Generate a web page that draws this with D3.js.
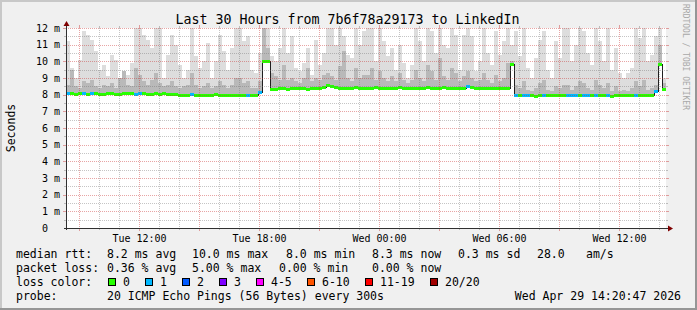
<!DOCTYPE html>
<html>
<head>
<meta charset="utf-8">
<script src="https://cdn.jsdelivr.net/npm/d3@7"></script>
<style>
html, body { margin: 0; padding: 0; background: #fff; }
svg text { font-family: "DejaVu Sans Mono", monospace; white-space: pre; }
</style>
</head>
<body>
<script>
//size of the picture and of the plot area
var totalWidth = 697;
var totalHeight = 310;
var plot = {left: 66, top: 28, width: 600, height: 200};

//time range of the graph, 30 hours ending at the stamp (UTC so the sandbox timezone does not matter)
var endTime = new Date(Date.UTC(2026, 3, 29, 14, 20, 47));
var startTime = new Date(endTime.getTime() - 30 * 3600 * 1000);
var binMinutes = 12;

//median rtt per 12 minute bin, in ms
var medianRtt = [
    8.1, 8.1, 8.05, 8.1, 8.1, 8.05, 8.1, 8.1, 8.05, 8.05, 8.1, 8.1, 8.05, 8.05, 8.1, 8.1, 8.1, 8.05, 8.1, 8.1, 8.05, 8.05, 8.1, 8.05, 8.1,
    8.05, 8.05, 8.05, 8.0, 8.0, 8.0, 8.05, 8.0, 8.0, 8.0, 8.0, 8.0, 8.05, 8.0, 8.0, 8.0, 8.0, 8.0, 8.0, 8.0, 8.0, 8.0, 8.0, 8.15, 10.0, 10.0,
    8.35, 8.35, 8.4, 8.4, 8.35, 8.4, 8.4, 8.4, 8.4, 8.35, 8.4, 8.4, 8.4, 8.45, 8.6, 8.55, 8.45, 8.4, 8.4, 8.4, 8.4, 8.45, 8.4, 8.4,
    8.4, 8.4, 8.45, 8.4, 8.4, 8.4, 8.4, 8.4, 8.45, 8.4, 8.4, 8.4, 8.4, 8.4, 8.4, 8.45, 8.4, 8.4, 8.4, 8.45, 8.4, 8.4, 8.4, 8.4, 8.4,
    8.5, 8.45, 8.4, 8.4, 8.4, 8.4, 8.4, 8.4, 8.4, 8.4, 8.4, 9.85, 8.0, 8.0, 8.0, 8.0, 8.0, 7.95, 8.0, 8.0, 8.0, 8.0, 8.0, 8.0, 8.0,
    8.0, 8.0, 8.0, 8.0, 8.0, 8.0, 8.0, 8.0, 8.0, 8.0, 8.0, 7.95, 8.0, 8.0, 8.0, 8.0, 8.0, 8.0, 8.0, 8.0, 8.0, 8.0, 8.2, 9.85, 8.35
];

//top of the light smoke (slowest pings) per bin, in ms
var smokeHigh = [
    11.2, 9.6, 9.0, 10.1, 11.8, 11.6, 11.3, 10.6, 9.5, 9.8, 9.1, 10.4, 10.1, 9.0, 8.9, 9.2, 9.9, 12.4, 12.4, 11.6, 11.3, 10.8, 12.2, 12.0, 9.0,
    10.4, 11.6, 11.0, 9.8, 9.0, 9.5, 12.2, 10.3, 9.6, 10.0, 11.1, 9.0, 10.0, 11.6, 10.6, 9.5, 10.8, 12.2, 12.0, 11.2, 11.5, 9.5, 9.3, 10.5, 12.4, 12.4,
    10.3, 10.0, 10.8, 12.0, 10.5, 11.5, 9.6, 9.4, 9.9, 10.8, 9.2, 11.3, 9.8, 10.5, 12.2, 12.0, 11.0, 12.2, 11.5, 10.4, 10.2, 12.3, 11.0, 11.8,
    12.1, 12.2, 10.0, 12.0, 11.2, 10.3, 10.8, 9.5, 11.0, 9.9, 9.0, 9.8, 12.2, 11.2, 10.0, 12.1, 11.8, 10.5, 12.2, 11.0, 10.8, 12.0, 11.6, 9.5, 11.6,
    12.1, 11.5, 9.4, 10.0, 12.0, 10.5, 9.8, 11.8, 10.4, 11.2, 12.3, 11.0, 11.8, 10.3, 12.0, 9.6, 9.0, 10.2, 11.3, 11.8, 9.5, 9.0, 11.2, 10.2, 12.2,
    12.2, 10.0, 11.0, 12.1, 11.8, 10.5, 9.8, 12.0, 11.2, 10.0, 12.0, 9.5, 10.8, 9.3, 9.0, 9.3, 9.6, 12.1, 11.4, 12.0, 10.0, 10.4, 11.5, 12.4, 9.0
];

//top of the darker smoke per bin, in ms
var smokeMid = [
    8.6, 9.5, 8.5, 8.4, 8.8, 8.7, 8.9, 8.5, 8.4, 8.6, 8.5, 8.7, 8.4, 9.0, 9.4, 8.6, 8.5, 9.6, 9.2, 8.8, 8.6, 8.9, 9.3, 8.7, 8.5,
    8.6, 8.8, 8.5, 8.4, 8.5, 8.6, 9.3, 8.6, 8.4, 8.5, 8.7, 8.4, 8.5, 8.8, 8.6, 8.4, 8.6, 9.0, 9.0, 8.7, 8.8, 8.4, 8.4, 8.8, 12.0, 10.8,
    9.3, 9.1, 8.9, 9.8, 8.9, 9.0, 8.8, 8.7, 9.0, 9.6, 8.8, 9.0, 8.9, 9.2, 9.3, 9.1, 8.9, 9.7, 10.6, 9.0, 8.8, 9.6, 9.0, 9.2,
    9.2, 9.6, 8.9, 9.4, 9.0, 8.8, 9.1, 8.8, 9.3, 8.9, 8.7, 8.9, 9.5, 9.0, 8.8, 9.8, 9.4, 8.9, 10.2, 9.1, 8.9, 9.6, 9.3, 8.8, 9.1,
    9.4, 9.0, 8.8, 8.9, 9.3, 8.9, 8.7, 9.2, 8.8, 9.0, 9.9, 10.0, 8.6, 8.4, 8.8, 8.3, 8.2, 8.4, 8.7, 8.9, 8.3, 8.2, 8.5, 8.4, 8.6,
    8.6, 8.3, 8.5, 8.8, 8.7, 8.4, 8.3, 8.9, 8.6, 8.4, 8.7, 8.2, 8.5, 8.2, 8.3, 8.2, 8.4, 8.8, 8.5, 8.9, 8.3, 8.4, 8.6, 11.0, 8.7
];

//lost pings (out of 20) per bin
var lostPings = [
    1, 0, 0, 0, 1, 0, 1, 0, 0, 0, 0, 0, 0, 0, 0, 0, 0, 1, 1, 0, 0, 0, 0, 0, 0,
    0, 0, 0, 0, 0, 0, 1, 0, 0, 0, 0, 0, 0, 0, 0, 0, 0, 0, 0, 0, 1, 0, 0, 1, 0, 0,
    0, 0, 0, 0, 0, 0, 0, 0, 0, 0, 0, 0, 0, 0, 0, 0, 0, 0, 0, 0, 0, 0, 0, 0,
    0, 0, 0, 0, 0, 0, 0, 0, 0, 0, 0, 0, 0, 0, 0, 0, 0, 0, 0, 0, 0, 0, 0, 0, 0,
    1, 0, 0, 0, 0, 0, 0, 0, 0, 0, 0, 0, 1, 0, 1, 1, 0, 0, 0, 1, 0, 0, 0, 0, 0,
    1, 1, 1, 0, 1, 1, 0, 1, 0, 0, 1, 0, 0, 0, 0, 0, 0, 1, 0, 0, 0, 0, 1, 0, 0
];

//y axis ticks and labels
var yTicks = [0, 1, 2, 3, 4, 5, 6, 7, 8, 9, 10, 11, 12];
var yTickLabels = ["0  ", "1 m", "2 m", "3 m", "4 m", "5 m", "6 m", "7 m", "8 m", "9 m", "10 m", "11 m", "12 m"];

//loss color legend
var lossLabels = ["0", "1", "2", "3", "4-5", "6-10", "11-19", "20/20"];
var lossColors = ["#26ff00", "#00b8ff", "#0059ff", "#7e00ff", "#ff00ff", "#ff5500", "#ff0000", "#a10000"];
var lossLimits = [0, 1, 2, 3, 5, 10, 19, 20];

//legend texts
var titleText = "Last 30 Hours from 7b6f78a29173 to LinkedIn";
var rttItems = ["median rtt:", "8.2 ms avg", "10.0 ms max", "8.0 ms min", "8.3 ms now", "0.3 ms sd", "28.0", "am/s"];
var lossItems = ["packet loss:", "0.36 % avg", "5.00 % max", "0.00 % min", "0.00 % now"];
var probeItems = ["probe:", "20 ICMP Echo Pings (56 Bytes) every 300s"];
var stampText = "Wed Apr 29 14:20:47 2026";

//layout of the legend (x of each item)
var rttX = [16, 107, 192, 286, 372, 458, 537, 586];
var lossX = [16, 107, 192, 279, 372];
var boxX = [108, 145, 182, 219, 256, 307, 365, 430];

var backColor = "#f0f0f0";
var lightSmoke = "#dddddd";
var midSmoke = "#b9b9b9";
var minorGridColor = "rgba(110,110,110,0.4)";
var majorGridColor = "rgba(200,40,40,0.42)";
var axisColor = "#303030";
var arrowColor = "#7f0000";

var svg = d3.select("body").append("svg")
    .attr("width", totalWidth)
    .attr("height", totalHeight);

//background and 3d frame
svg.append("rect").attr("width", totalWidth).attr("height", totalHeight).attr("fill", backColor);
svg.append("rect").attr("x", 0).attr("y", 0).attr("width", totalWidth).attr("height", 2).attr("fill", "#c8c8c8");
svg.append("rect").attr("x", 0).attr("y", 0).attr("width", 2).attr("height", totalHeight).attr("fill", "#c8c8c8");
svg.append("rect").attr("x", 0).attr("y", totalHeight - 2).attr("width", totalWidth).attr("height", 2).attr("fill", "#969696");
svg.append("rect").attr("x", totalWidth - 2).attr("y", 0).attr("width", 2).attr("height", totalHeight).attr("fill", "#969696");

//scales
var xScale = d3.scaleTime()
    .domain([startTime, endTime])
    .range([plot.left, plot.left + plot.width]);
var yScale = d3.scaleLinear()
    .domain([0, 12])
    .range([plot.top + plot.height, plot.top]);

function binStart(i) { return new Date(startTime.getTime() + i * binMinutes * 60000); }
function binEnd(i) { return new Date(startTime.getTime() + (i + 1) * binMinutes * 60000); }

//canvas
svg.append("rect")
    .attr("x", plot.left).attr("y", plot.top)
    .attr("width", plot.width).attr("height", plot.height)
    .attr("fill", "#ffffff");

svg.append("clipPath").attr("id", "plotClip")
    .append("rect")
    .attr("x", plot.left).attr("y", plot.top)
    .attr("width", plot.width).attr("height", plot.height);

var g = svg.append("g").attr("clip-path", "url(#plotClip)");

var bins = d3.range(medianRtt.length).map(function (i) {
    return {i: i, t0: binStart(i), t1: binEnd(i), median: medianRtt[i], high: smokeHigh[i], mid: smokeMid[i], loss: lostPings[i]};
});

//light smoke
g.selectAll(".smokeHigh")
    .data(bins)
    .enter()
    .append("rect")
    .attr("x", d => xScale(d.t0))
    .attr("width", d => xScale(d.t1) - xScale(d.t0))
    .attr("y", d => yScale(d.high))
    .attr("height", d => yScale(d.median) - yScale(d.high))
    .attr("fill", lightSmoke)
    .attr("shape-rendering", "crispEdges");

//darker smoke
g.selectAll(".smokeMid")
    .data(bins)
    .enter()
    .append("rect")
    .attr("x", d => xScale(d.t0))
    .attr("width", d => xScale(d.t1) - xScale(d.t0))
    .attr("y", d => yScale(d.mid))
    .attr("height", d => yScale(d.median) - yScale(d.mid))
    .attr("fill", midSmoke)
    .attr("shape-rendering", "crispEdges");

//median line
var stepPoints = bins.map(d => [d.t0, d.median]);
stepPoints.push([bins[bins.length - 1].t1, bins[bins.length - 1].median]);
var medianLine = d3.line()
    .x(d => xScale(d[0]))
    .y(d => Math.round(yScale(d[1])) + 0.5)
    .curve(d3.curveStepAfter);
g.append("path")
    .datum(stepPoints)
    .attr("d", medianLine)
    .attr("fill", "none")
    .attr("stroke", "#202020")
    .attr("stroke-width", 1)
    .attr("shape-rendering", "crispEdges");

//loss colored band on the median
function lossColor(n) {
    for (var k = 0; k < lossLimits.length; k++) {
        if (n <= lossLimits[k]) return lossColors[k];
    }
    return lossColors[lossColors.length - 1];
}
g.selectAll(".lossBand")
    .data(bins)
    .enter()
    .append("rect")
    .attr("x", d => xScale(d.t0))
    .attr("width", d => xScale(d.t1) - xScale(d.t0))
    .attr("y", d => Math.round(yScale(d.median)) - 1)
    .attr("height", 3)
    .attr("fill", d => lossColor(d.loss))
    .attr("shape-rendering", "crispEdges");

//grid on top of the graph
var grid = svg.append("g");
var x0 = plot.left, x1 = plot.left + plot.width;
var yTop = plot.top, yBottom = plot.top + plot.height;

var minorY = d3.range(0.5, 12, 1);
minorY.forEach(function (v) {
    var y = Math.round(yScale(v)) + 0.5;
    grid.append("line").attr("x1", x0).attr("x2", x1).attr("y1", y).attr("y2", y)
        .attr("stroke", minorGridColor).attr("stroke-dasharray", "1,1");
    grid.append("line").attr("x1", x0 - 2).attr("x2", x0).attr("y1", y).attr("y2", y).attr("stroke", minorGridColor);
    grid.append("line").attr("x1", x1).attr("x2", x1 + 2).attr("y1", y).attr("y2", y).attr("stroke", minorGridColor);
});

var hours = d3.utcHour.range(startTime, endTime);
hours.forEach(function (t) {
    var x = Math.round(xScale(t)) + 0.5;
    var major = t.getUTCHours() % 3 === 0;
    var c = major ? majorGridColor : minorGridColor;
    grid.append("line").attr("x1", x).attr("x2", x).attr("y1", yTop).attr("y2", yBottom)
        .attr("stroke", c).attr("stroke-dasharray", "1,1");
    grid.append("line").attr("x1", x).attr("x2", x).attr("y1", yBottom).attr("y2", yBottom + (major ? 3 : 2)).attr("stroke", c);
    grid.append("line").attr("x1", x).attr("x2", x).attr("y1", yTop - (major ? 3 : 2)).attr("y2", yTop).attr("stroke", c);
});

yTicks.forEach(function (v) {
    if (v === 0) return;
    var y = Math.round(yScale(v)) + 0.5;
    grid.append("line").attr("x1", x0).attr("x2", x1).attr("y1", y).attr("y2", y)
        .attr("stroke", majorGridColor).attr("stroke-dasharray", "1,1");
    grid.append("line").attr("x1", x0 - 3).attr("x2", x0).attr("y1", y).attr("y2", y).attr("stroke", majorGridColor);
    grid.append("line").attr("x1", x1).attr("x2", x1 + 3).attr("y1", y).attr("y2", y).attr("stroke", majorGridColor);
});

//axes with arrows
svg.append("line")
    .attr("x1", x0 - 2).attr("x2", x1 + 4)
    .attr("y1", yBottom + 0.5).attr("y2", yBottom + 0.5)
    .attr("stroke", axisColor);
svg.append("line")
    .attr("x1", x0 + 0.5).attr("x2", x0 + 0.5)
    .attr("y1", yBottom + 2).attr("y2", yTop - 4)
    .attr("stroke", axisColor);
svg.append("path")
    .attr("d", "M" + (x0 - 2.5) + "," + (yTop - 2) + "L" + (x0 + 0.5) + "," + (yTop - 7) + "L" + (x0 + 3.5) + "," + (yTop - 2) + "Z")
    .attr("fill", arrowColor);
svg.append("path")
    .attr("d", "M" + (x1 + 2) + "," + (yBottom - 2.5) + "L" + (x1 + 7) + "," + (yBottom + 0.5) + "L" + (x1 + 2) + "," + (yBottom + 3.5) + "Z")
    .attr("fill", arrowColor);

//y labels
svg.selectAll(".ylabel")
    .data(yTicks)
    .enter()
    .append("text")
    .attr("x", x0 - 6)
    .attr("y", d => yScale(d) + 3.7)
    .attr("text-anchor", "end")
    .attr("font-size", "10px")
    .text((d, i) => yTickLabels[i]);

//x labels every 6 hours
var fmt = d3.utcFormat("%a %H:%M");
svg.selectAll(".xlabel")
    .data(d3.utcHour.every(6).range(startTime, endTime))
    .enter()
    .append("text")
    .attr("x", d => Math.round(xScale(d)) + 0.5)
    .attr("y", yBottom + 13.5)
    .attr("text-anchor", "middle")
    .attr("font-size", "10px")
    .text(d => fmt(d));

//title and side texts
svg.append("text")
    .attr("x", 347.5).attr("y", 24)
    .attr("text-anchor", "middle")
    .attr("font-size", "13.3px")
    .text(titleText);

svg.append("text")
    .attr("transform", "translate(15," + (yTop + plot.height / 2) + ") rotate(-90)")
    .attr("text-anchor", "middle")
    .attr("font-size", "11.5px")
    .text("Seconds");

svg.append("text")
    .attr("transform", "translate(683,4) rotate(90)")
    .attr("font-size", "8px")
    .attr("fill", "#a8a8a8")
    .text("RRDTOOL / TOBI OETIKER");

//legend rows
var legendFont = "11.5px";
rttItems.forEach(function (s, i) {
    svg.append("text").attr("x", rttX[i]).attr("y", 258).attr("font-size", legendFont).text(s);
});
lossItems.forEach(function (s, i) {
    svg.append("text").attr("x", lossX[i]).attr("y", 272).attr("font-size", legendFont).text(s);
});
svg.append("text").attr("x", 16).attr("y", 286).attr("font-size", legendFont).text("loss color:");
lossLabels.forEach(function (s, i) {
    svg.append("rect")
        .attr("x", boxX[i] + 0.5).attr("y", 278.5)
        .attr("width", 7).attr("height", 7)
        .attr("fill", lossColors[i])
        .attr("stroke", "#000")
        .attr("stroke-width", 1);
    svg.append("text").attr("x", boxX[i] + 15).attr("y", 286).attr("font-size", legendFont).text(s);
});
svg.append("text").attr("x", 16).attr("y", 300).attr("font-size", legendFont).text(probeItems[0]);
svg.append("text").attr("x", 107).attr("y", 300).attr("font-size", legendFont).text(probeItems[1]);
svg.append("text").attr("x", 681).attr("y", 300).attr("text-anchor", "end").attr("font-size", legendFont).text(stampText);
</script>
</body>
</html>
